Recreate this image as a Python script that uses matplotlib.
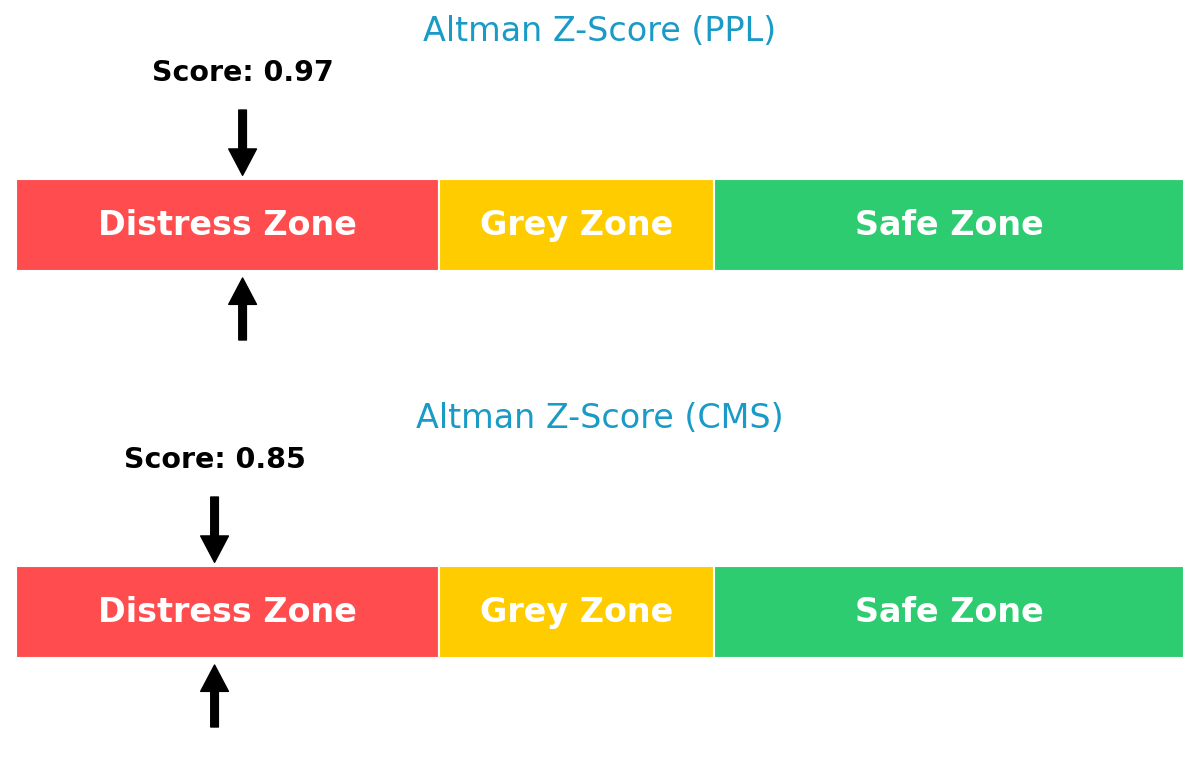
import matplotlib.pyplot as plt

# Data
# ------------------------------------------------------------------------

companies = ['PPL', 'CMS']
scores = [0.97, 0.85]

zone_names = ['Distress Zone', 'Grey Zone', 'Safe Zone']
zone_starts = [0.0, 1.81, 2.99]
zone_widths = [1.81, 1.18, 2.01]
zone_colors = ['#ff4d4f', '#ffcc00', '#2ecc71']

# Plot
# ------------------------------------------------------------------------

fig, axes = plt.subplots(2, 1, figsize=(12, 7.74), dpi=100)
fig.subplots_adjust(left=16 / 1200, right=1184 / 1200, top=1, bottom=0, hspace=0)

for ax, company, score in zip(axes, companies, scores):
    ax.barh(0.5, zone_widths, left=zone_starts, height=1.0,
            color=zone_colors, edgecolor='white', linewidth=1.5)

    for name, start, width in zip(zone_names, zone_starts, zone_widths):
        ax.text(start + width / 2, 0.5, name, ha='center', va='center',
                color='white', fontsize=24, fontweight='bold')

    ax.annotate('', xy=(score, 1.04), xytext=(score, 1.75),
                arrowprops=dict(facecolor='black', edgecolor='black',
                                width=5.5, headwidth=20, headlength=19, shrink=0))
    ax.annotate('', xy=(score, -0.076), xytext=(score, -0.75),
                arrowprops=dict(facecolor='black', edgecolor='black',
                                width=5.5, headwidth=20, headlength=19, shrink=0))

    ax.text(score, 2.15, f'Score: {score:.2f}', ha='center', va='center',
            fontsize=20.5, fontweight='bold', color='black')
    ax.text(2.5, 2.60, f'Altman Z-Score ({company})', ha='center', va='center',
            fontsize=24, color='#1a9bc7')

    ax.set_xlim(0, 5)
    ax.set_ylim(-1.261, 2.946)
    ax.axis('off')

plt.savefig('out.png', dpi=100)
